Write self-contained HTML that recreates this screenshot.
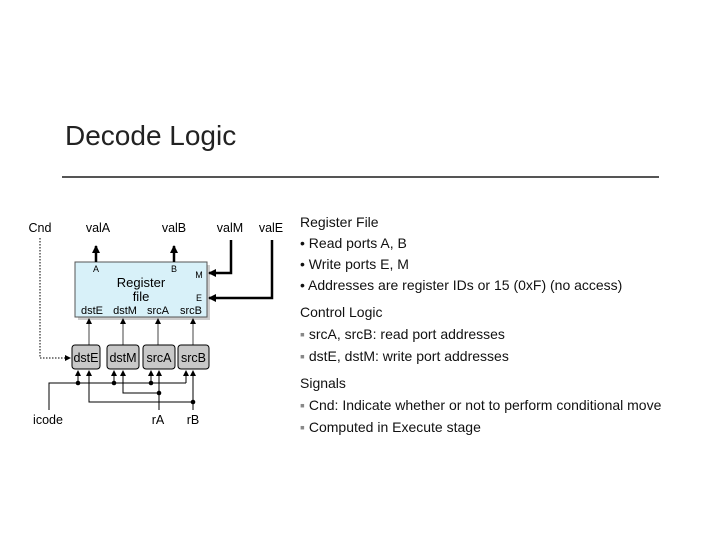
<!DOCTYPE html>
<html><head><meta charset="utf-8"><style>
body{margin:0;background:#fff;width:719px;height:539px;overflow:hidden;position:relative;font-family:"Liberation Sans",sans-serif}
.t{position:absolute;left:65px;top:120px;font-size:28px;color:#222}
.hr{position:absolute;left:62px;top:176px;width:597px;height:2px;background:#555}
.r{position:absolute;left:300px;font-size:14px;color:#111;white-space:nowrap}
</style></head><body>
<div class="t">Decode Logic</div>
<div class="hr"></div>
<svg width="719" height="539" style="position:absolute;left:0;top:0" font-family="Liberation Sans, sans-serif">
<defs>
<marker id="a" markerWidth="6" markerHeight="6" refX="5" refY="3" orient="auto" markerUnits="userSpaceOnUse"><path d="M0,0L6,3L0,6z" fill="#000"/></marker>
<marker id="b" markerWidth="8" markerHeight="8" refX="7" refY="4" orient="auto" markerUnits="userSpaceOnUse"><path d="M0,0L8,4L0,8z" fill="#000"/></marker>
</defs>
<g font-size="12.5" text-anchor="middle">
<text x="40" y="232">Cnd</text><text x="98" y="232">valA</text><text x="174" y="232">valB</text><text x="230" y="232">valM</text><text x="271" y="232">valE</text>
<text x="48" y="424">icode</text><text x="158" y="424">rA</text><text x="193" y="424">rB</text>
</g>
<rect x="78" y="265" width="132" height="55" fill="#999" opacity="0.5"/>
<rect x="75" y="262" width="132" height="55" fill="#d8f1f9" stroke="#555" stroke-width="1"/>
<g font-size="9" text-anchor="middle"><text x="96" y="272">A</text><text x="174" y="272">B</text><text x="199" y="278">M</text><text x="199" y="301">E</text></g>
<g font-size="13" text-anchor="middle"><text x="141" y="287">Register</text><text x="141" y="301">file</text></g>
<g font-size="11" text-anchor="middle"><text x="92" y="314">dstE</text><text x="125" y="314">dstM</text><text x="158" y="314">srcA</text><text x="191" y="314">srcB</text></g>
<g stroke="#000" stroke-width="2.5" fill="none">
<line x1="96" y1="262" x2="96" y2="246" marker-end="url(#b)"/>
<line x1="174" y1="262" x2="174" y2="246" marker-end="url(#b)"/>
<polyline points="231,240 231,273 209,273" marker-end="url(#b)"/>
<polyline points="272,240 272,298 209,298" marker-end="url(#b)"/>
</g>
<g stroke="#444" stroke-width="1" fill="none">
<line x1="89" y1="345" x2="89" y2="319" marker-end="url(#a)"/>
<line x1="123" y1="345" x2="123" y2="319" marker-end="url(#a)"/>
<line x1="158" y1="345" x2="158" y2="319" marker-end="url(#a)"/>
<line x1="193" y1="345" x2="193" y2="319" marker-end="url(#a)"/>
</g>
<polyline points="40,238 40,358 70,358" fill="none" stroke="#000" stroke-dasharray="1.5,1.5" marker-end="url(#a)"/>
<g fill="#c8c8c8" stroke="#000" stroke-width="1">
<rect x="72" y="345" width="28" height="24" rx="3"/><rect x="107" y="345" width="32" height="24" rx="3"/>
<rect x="143" y="345" width="32" height="24" rx="3"/><rect x="178" y="345" width="31" height="24" rx="3"/>
</g>
<g font-size="12.5" text-anchor="middle"><text x="86" y="362">dstE</text><text x="123" y="362">dstM</text><text x="159" y="362">srcA</text><text x="193.5" y="362">srcB</text></g>
<g stroke="#000" stroke-width="1" fill="none">
<polyline points="49,410 49,383 186,383"/>
<line x1="78" y1="383" x2="78" y2="371" marker-end="url(#a)"/>
<line x1="114" y1="383" x2="114" y2="371" marker-end="url(#a)"/>
<line x1="151" y1="383" x2="151" y2="371" marker-end="url(#a)"/>
<line x1="186" y1="383" x2="186" y2="371" marker-end="url(#a)"/>
<line x1="159" y1="410" x2="159" y2="371" marker-end="url(#a)"/>
<polyline points="159,393 123,393 123,371" marker-end="url(#a)"/>
<line x1="193" y1="410" x2="193" y2="371" marker-end="url(#a)"/>
<polyline points="193,402 89,402 89,371" marker-end="url(#a)"/>
</g>
<g fill="#000"><circle cx="78" cy="383" r="2.3"/><circle cx="114" cy="383" r="2.3"/><circle cx="151" cy="383" r="2.3"/><circle cx="159" cy="393" r="2.3"/><circle cx="193" cy="402" r="2.3"/></g>
</svg>
<div class="r" style="top:214px">Register File</div>
<div class="r" style="top:235px">• Read ports A, B</div>
<div class="r" style="top:256px">• Write ports E, M</div>
<div class="r" style="top:277px">• Addresses are register IDs or 15 (0xF) (no access)</div>
<div class="r" style="top:304px">Control Logic</div>
<div class="r" style="top:326px"><span style="color:#888">▪</span> srcA, srcB: read port addresses</div>
<div class="r" style="top:348px"><span style="color:#888">▪</span> dstE, dstM: write port addresses</div>
<div class="r" style="top:375px">Signals</div>
<div class="r" style="top:397px"><span style="color:#888">▪</span> Cnd: Indicate whether or not to perform conditional move</div>
<div class="r" style="top:419px"><span style="color:#888">▪</span> Computed in Execute stage</div>
</body></html>
